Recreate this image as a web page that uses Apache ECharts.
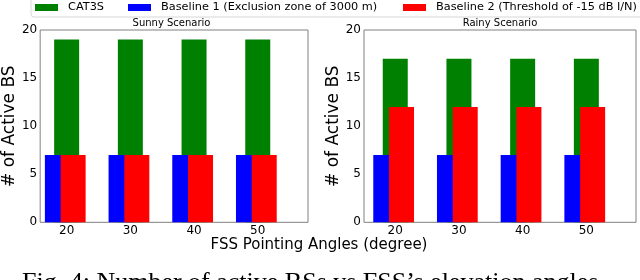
<!DOCTYPE html>
<html>
<head>
<meta charset="utf-8">
<script src="https://cdn.jsdelivr.net/npm/echarts@6/dist/echarts.min.js"></script>
<style>html,body{margin:0;padding:0;background:#fff}#c{width:640px;height:280px}</style>
</head>
<body>
<div id="c"></div>
<script>
const categories = ['20', '30', '40', '50'];
const sunnyCAT3S = [19, 19, 19, 19];
const sunnyBaseline1 = [7, 7, 7, 7];
const sunnyBaseline2 = [7, 7, 7, 7];
const rainyCAT3S = [17, 17, 17, 17];
const rainyBaseline1 = [7, 7, 7, 7];
const rainyBaseline2 = [12, 12, 12, 12];
const yMin = 0, yMax = 20, yStep = 5;
const seriesNames = ['CAT3S', 'Baseline 1 (Exclusion zone of 3000 m)', 'Baseline 2 (Threshold of -15 dB I/N)'];
const colors = ['#008000', '#0000ff', '#ff0000'];

const FONT = 'DejaVu Sans';
const gTop = 30, gBottom = 57.7;

const grids = [
  {left: 35, width: 273, top: gTop, bottom: gBottom, show: true, borderColor: '#808080', borderWidth: 1, backgroundColor: 'transparent'},
  {left: 34.8, width: 254.8, top: gTop, bottom: gBottom},
  {left: 33.4, width: 254.8, top: gTop, bottom: gBottom},
  {left: 364, width: 272, top: gTop, bottom: gBottom, show: true, borderColor: '#808080', borderWidth: 1, backgroundColor: 'transparent'},
  {left: 363.4, width: 254.8, top: gTop, bottom: gBottom},
  {left: 361.8, width: 254.8, top: gTop, bottom: gBottom}
];

function frameX(g) { return {type: 'value', gridIndex: g, show: false}; }
function frameY(g, gap) {
  return {type: 'value', gridIndex: g, min: yMin, max: yMax, interval: yStep,
    axisLine: {show: false}, axisTick: {show: false}, splitLine: {show: false},
    axisLabel: {fontFamily: FONT, fontSize: 12, color: '#000', margin: 3},
    name: '# of Active BS', nameLocation: 'middle', nameGap: gap,
    nameTextStyle: {fontFamily: FONT, fontSize: 17, color: '#000'}};
}
function catX(g, showLabels) {
  return {type: 'category', gridIndex: g, data: categories, show: showLabels,
    axisLine: {show: false}, axisTick: {show: false}, splitLine: {show: false},
    axisLabel: {fontFamily: FONT, fontSize: 12, color: '#000', margin: 3}};
}
function hidY(g) { return {type: 'value', gridIndex: g, min: yMin, max: yMax, show: false}; }

function bar(name, data, idx, color, gap) {
  const s = {type: 'bar', name: name, data: data, xAxisIndex: idx, yAxisIndex: idx,
    barWidth: 25, itemStyle: {color: color}, animation: false};
  if (gap) s.barGap = gap;
  return s;
}

const legendText = {fontFamily: FONT, fontSize: 11.3, color: '#000', padding: [0, 0, 0, 5], lineHeight: 14};

const option = {
  animation: false,
  grid: grids,
  xAxis: [frameX(0), catX(1, true), catX(2, false), frameX(3), catX(4, true), catX(5, false)],
  yAxis: [frameY(0, 18), hidY(1), hidY(2), frameY(3, 20), hidY(4), hidY(5)],
  legend: [
    {data: [seriesNames[0]], left: 35, top: 0.5, padding: 0, icon: 'rect', itemWidth: 23, itemHeight: 7, textStyle: legendText},
    {data: [seriesNames[1]], left: 128, top: 0.5, padding: 0, icon: 'rect', itemWidth: 23, itemHeight: 7, textStyle: legendText},
    {data: [seriesNames[2]], left: 403, top: 0.5, padding: 0, icon: 'rect', itemWidth: 23, itemHeight: 7, textStyle: legendText}
  ],
  series: [
    bar(seriesNames[0], sunnyCAT3S, 1, colors[0]),
    bar(seriesNames[0], rainyCAT3S, 4, colors[0]),
    bar(seriesNames[1], sunnyBaseline1, 2, colors[1], '-37%'),
    bar(seriesNames[2], sunnyBaseline2, 2, colors[2], '-37%'),
    bar(seriesNames[1], rainyBaseline1, 5, colors[1], '-37%'),
    bar(seriesNames[2], rainyBaseline2, 5, colors[2], '-37%')
  ],
  graphic: [
    {type: 'rect', shape: {x: 31, y: -5, width: 640, height: 22, r: 3}, style: {fill: 'none', stroke: '#d6d6d6', lineWidth: 1}, silent: true},
    {type: 'text', style: {text: 'Sunny Scenario', x: 171.5, y: 23.5, align: 'center', verticalAlign: 'middle', textAlign: 'center', textVerticalAlign: 'middle', font: '10px "DejaVu Sans"', fill: '#000'}},
    {type: 'text', style: {text: 'Rainy Scenario', x: 500, y: 23.5, align: 'center', verticalAlign: 'middle', textAlign: 'center', textVerticalAlign: 'middle', font: '10px "DejaVu Sans"', fill: '#000'}},
    {type: 'text', style: {text: 'FSS Pointing Angles (degree)', x: 319, y: 245, align: 'center', verticalAlign: 'middle', textAlign: 'center', textVerticalAlign: 'middle', font: '15px "DejaVu Sans"', fill: '#000'}},
    {type: 'text', style: {text: 'Fig. 4: Number of active BSs vs FSS\u2019s elevation angles', x: 22, y: 270.5, align: 'left', verticalAlign: 'top', textAlign: 'left', textVerticalAlign: 'top', font: '26px "Liberation Serif"', fill: '#000'}}
  ]
};

const chart = echarts.init(document.getElementById('c'), null, {renderer: 'canvas'});
chart.setOption(option);
</script>
</body>
</html>
